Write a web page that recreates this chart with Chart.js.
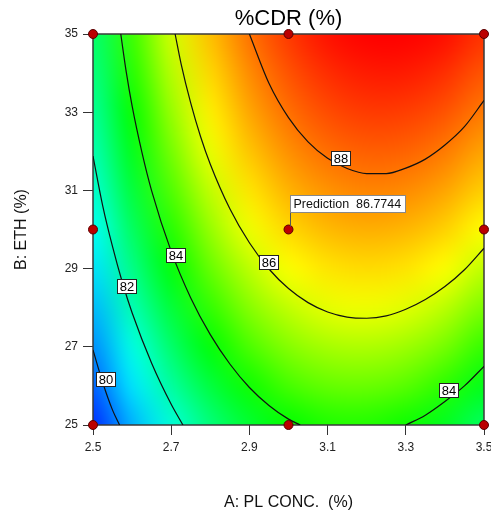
<!DOCTYPE html>
<html>
<head>
<meta charset="utf-8">
<script src="https://cdn.jsdelivr.net/npm/chart.js@4.4.1/dist/chart.umd.min.js"></script>
<style>
html, body { margin: 0; padding: 0; background: #fff; }
</style>
</head>
<body>
<canvas id="myChart" width="491" height="512"></canvas>
<script>
const aGrid = [2.5, 2.6, 2.7, 2.8, 2.9, 3.0, 3.1, 3.2, 3.3, 3.4, 3.5];
const bGrid = [25, 26, 27, 28, 29, 30, 31, 32, 33, 34, 35];
// one row per B value (25 first), one column per A value
const cdrGrid = [
    [79.04, 80.48, 81.69, 82.66, 83.40, 83.90, 84.17, 84.20, 84.00, 83.57, 82.90],
    [79.58, 81.04, 82.27, 83.27, 84.02, 84.55, 84.84, 84.89, 84.72, 84.30, 83.65],
    [80.09, 81.57, 82.82, 83.83, 84.61, 85.16, 85.47, 85.55, 85.39, 85.00, 84.37],
    [80.55, 82.06, 83.33, 84.36, 85.17, 85.73, 86.07, 86.16, 86.03, 85.66, 85.05],
    [80.99, 82.51, 83.80, 84.86, 85.68, 86.27, 86.62, 86.74, 86.63, 86.28, 85.69],
    [81.38, 82.93, 84.24, 85.32, 86.16, 86.77, 87.15, 87.29, 87.19, 86.86, 86.30],
    [81.74, 83.31, 84.64, 85.74, 86.60, 87.23, 87.63, 87.79, 87.72, 87.41, 86.87],
    [82.06, 83.65, 85.00, 86.12, 87.01, 87.66, 88.08, 88.26, 88.21, 87.92, 87.40],
    [82.34, 83.95, 85.33, 86.47, 87.38, 88.05, 88.49, 88.69, 88.66, 88.40, 87.90],
    [82.59, 84.22, 85.62, 86.78, 87.71, 88.40, 88.86, 89.09, 89.08, 88.84, 88.36],
    [82.80, 84.45, 85.87, 87.06, 88.01, 88.72, 89.20, 89.45, 89.46, 89.24, 88.78]
];

// contour lines, [A, B] pairs
const contour88 = [[2.9, 35], [2.95, 33.74], [3.0, 32.86], [3.05, 32.24], [3.1, 31.82], [3.15, 31.56], [3.2, 31.43], [3.25, 31.43], [3.3, 31.57], [3.35, 31.8], [3.4, 32.16], [3.45, 32.63], [3.5, 33.3]];
const contour86 = [[2.71, 35], [2.725, 34.25], [2.75, 33.23], [2.775, 32.38], [2.8, 31.67], [2.85, 30.53], [2.9, 29.66], [2.95, 28.99], [3.0, 28.49], [3.05, 28.13], [3.1, 27.89], [3.15, 27.76], [3.2, 27.73], [3.25, 27.79], [3.3, 27.96], [3.35, 28.21], [3.4, 28.54], [3.45, 28.97], [3.5, 29.52]];
const contour84a = [[2.571, 35], [2.585, 34.03], [2.6, 33.16], [2.625, 31.98], [2.65, 30.99], [2.7, 29.44], [2.75, 28.25], [2.8, 27.31], [2.85, 26.56], [2.9, 25.96], [2.95, 25.5], [3.0, 25.15], [3.03, 25]];
const contour84b = [[3.3, 25], [3.35, 25.25], [3.4, 25.6], [3.45, 26.0], [3.5, 26.5]];
const contour82 = [[2.5, 31.88], [2.525, 30.6], [2.55, 29.56], [2.575, 28.65], [2.6, 27.87], [2.65, 26.58], [2.7, 25.53], [2.73, 25]];
const contour80 = [[2.5, 26.92], [2.525, 26.08], [2.55, 25.38], [2.568, 25]];

const contourLabels = [
    {text: '88', a: 3.132, b: 31.82},
    {text: '86', a: 2.949, b: 29.18},
    {text: '84', a: 2.711, b: 29.35},
    {text: '82', a: 2.585, b: 28.56},
    {text: '80', a: 2.532, b: 26.18},
    {text: '84', a: 3.409, b: 25.90}
];

// design points
const designA = [2.5, 2.5, 2.5, 3.0, 3.0, 3.0, 3.5, 3.5, 3.5];
const designB = [25, 30, 35, 25, 30, 35, 25, 30, 35];

const prediction = {a: 3.0, b: 30, value: '86.7744'};

const xTicks = [2.5, 2.7, 2.9, 3.1, 3.3, 3.5];
const yTicks = [25, 27, 29, 31, 33, 35];

const FONT = "'Liberation Sans', Arial, sans-serif";
const ctx = document.getElementById('myChart').getContext('2d');

// blue -> cyan -> green -> yellow -> red
const colourStops = [
    [78.6, [0, 0, 255]],
    [81.3, [0, 255, 255]],
    [83.9, [0, 255, 0]],
    [86.3, [255, 255, 0]],
    [89.4, [255, 0, 0]]
];

function cdrColour(v){
    if (v <= colourStops[0][0]) return colourStops[0][1];
    for (let i = 1; i < colourStops.length; i++) {
        if (v <= colourStops[i][0]) {
            const [v0, c0] = colourStops[i-1];
            const [v1, c1] = colourStops[i];
            const t = (v - v0) / (v1 - v0);
            return c0.map((c, k) => Math.round(c + (c1[k] - c) * t));
        }
    }
    return colourStops[colourStops.length-1][1];
}

const surfacePlugin = {
    id: 'surface',
    beforeDatasetsDraw(chart){
        const {ctx, chartArea: ca, scales: {x, y}} = chart;
        const nx = aGrid.length, ny = bGrid.length;
        const off = document.createElement('canvas');
        off.width = nx;
        off.height = ny;
        const octx = off.getContext('2d');
        const img = octx.createImageData(nx, ny);
        for (let j = 0; j < ny; j++) {
            const row = cdrGrid[ny - 1 - j];
            for (let i = 0; i < nx; i++) {
                const c = cdrColour(row[i]);
                const idx = (j * nx + i) * 4;
                img.data[idx] = c[0];
                img.data[idx+1] = c[1];
                img.data[idx+2] = c[2];
                img.data[idx+3] = 255;
            }
        }
        octx.putImageData(img, 0, 0);

        const x0 = x.getPixelForValue(aGrid[0]);
        const x1 = x.getPixelForValue(aGrid[nx-1]);
        const y0 = y.getPixelForValue(bGrid[ny-1]);
        const y1 = y.getPixelForValue(bGrid[0]);
        const hw = (x1 - x0) / (nx - 1) / 2;
        const hh = (y1 - y0) / (ny - 1) / 2;

        ctx.save();
        ctx.beginPath();
        ctx.rect(ca.left, ca.top, ca.width, ca.height);
        ctx.clip();
        ctx.imageSmoothingEnabled = true;
        ctx.imageSmoothingQuality = 'high';
        ctx.drawImage(off, x0 - hw, y0 - hh, x1 - x0 + 2*hw, y1 - y0 + 2*hh);
        ctx.restore();

        ctx.save();
        ctx.strokeStyle = '#3a3a3a';
        ctx.lineWidth = 1.5;
        ctx.strokeRect(ca.left, ca.top, ca.width, ca.height);
        ctx.restore();
    }
};

function drawLabelBox(ctx, text, cx, cy){
    ctx.font = '13px ' + FONT;
    const w = Math.round(ctx.measureText(text).width + 5);
    const h = 14;
    const l = Math.round(cx - w/2), t = Math.round(cy - h/2);
    ctx.fillStyle = '#fff';
    ctx.fillRect(l, t, w, h);
    ctx.strokeStyle = '#222';
    ctx.lineWidth = 1;
    ctx.strokeRect(l + 0.5, t + 0.5, w, h);
    ctx.fillStyle = '#000';
    ctx.textAlign = 'center';
    ctx.textBaseline = 'middle';
    ctx.fillText(text, l + w/2 + 0.5, t + h/2 + 1);
}

const labelPlugin = {
    id: 'labels',
    afterDatasetsDraw(chart){
        const {ctx, scales: {x, y}} = chart;
        ctx.save();
        contourLabels.forEach(l => {
            drawLabelBox(ctx, l.text, x.getPixelForValue(l.a), y.getPixelForValue(l.b));
        });

        // prediction flag
        const px = x.getPixelForValue(prediction.a);
        const py = y.getPixelForValue(prediction.b);
        const text = 'Prediction  ' + prediction.value;
        ctx.font = '12.5px ' + FONT;
        const w = Math.round(ctx.measureText(text).width + 7);
        const h = 17;
        const l = Math.round(px) + 1, b = Math.round(py) - 18;
        ctx.strokeStyle = '#555';
        ctx.lineWidth = 1;
        ctx.beginPath();
        ctx.moveTo(l + 0.5, b);
        ctx.lineTo(l + 0.5, py - 3);
        ctx.stroke();
        ctx.fillStyle = '#fff';
        ctx.fillRect(l, b - h, w, h);
        ctx.strokeStyle = '#888';
        ctx.strokeRect(l + 0.5, b - h + 0.5, w, h);
        ctx.fillStyle = '#111';
        ctx.textAlign = 'left';
        ctx.textBaseline = 'middle';
        ctx.fillText(text, l + 3.5, b - h/2 + 1);
        ctx.restore();
    }
};

function contourSet(points){
    return {
        type: 'line',
        data: points.map(p => ({x: p[0], y: p[1]})),
        borderColor: '#111',
        borderWidth: 1.2,
        pointRadius: 0,
        fill: false,
        cubicInterpolationMode: 'monotone',
        order: 2
    };
}

const tickFont = {family: FONT, size: 12};
const titleFont = {family: FONT, size: 16};

const myChart = new Chart(ctx, {
    type: 'scatter',
    data: {
        datasets: [
            {
                data: designA.map((a, i) => ({x: a, y: designB[i]})),
                backgroundColor: '#bb0000',
                borderColor: '#5a0000',
                borderWidth: 1,
                pointRadius: 4.5,
                clip: false,
                order: 0
            },
            contourSet(contour88),
            contourSet(contour86),
            contourSet(contour84a),
            contourSet(contour84b),
            contourSet(contour82),
            contourSet(contour80)
        ]
    },
    options: {
        responsive: false,
        animation: false,
        events: [],
        layout: {padding: {left: 0, right: 7, top: 0, bottom: 0}},
        plugins: {
            legend: {display: false},
            tooltip: {enabled: false},
            title: {
                display: true,
                fullSize: false,
                text: '%CDR (%)',
                color: '#000',
                font: {family: FONT, size: 22, weight: 'normal'},
                padding: {top: 6, bottom: 1.6}
            }
        },
        scales: {
            x: {
                type: 'linear',
                min: 2.5,
                max: 3.5,
                afterBuildTicks: s => { s.ticks = xTicks.map(v => ({value: v})); },
                afterFit: s => { s.height = 87; s.paddingLeft = 0; s.paddingRight = 0; },
                ticks: {
                    font: tickFont, color: '#222', padding: 5,
                    maxRotation: 0, autoSkip: false,
                    callback: v => v.toFixed(1)
                },
                grid: {drawOnChartArea: false, drawTicks: true, tickLength: 10, color: '#333'},
                border: {display: false},
                title: {display: true, text: 'A: PL CONC.  (%)', color: '#111', font: titleFont, padding: {top: 6, bottom: 0}}
            },
            y: {
                type: 'linear',
                min: 25,
                max: 35,
                afterBuildTicks: s => { s.ticks = yTicks.map(v => ({value: v})); },
                afterFit: s => { s.width = 93; s.paddingTop = 0; s.paddingBottom = 0; },
                ticks: {
                    font: tickFont, color: '#222', padding: 5,
                    callback: v => String(v)
                },
                grid: {drawOnChartArea: false, drawTicks: true, tickLength: 10, color: '#333'},
                border: {display: false},
                title: {display: true, text: 'B: ETH (%)', color: '#111', font: titleFont, padding: {top: 12, bottom: 0}}
            }
        }
    },
    plugins: [surfacePlugin, labelPlugin]
});
</script>
</body>
</html>
